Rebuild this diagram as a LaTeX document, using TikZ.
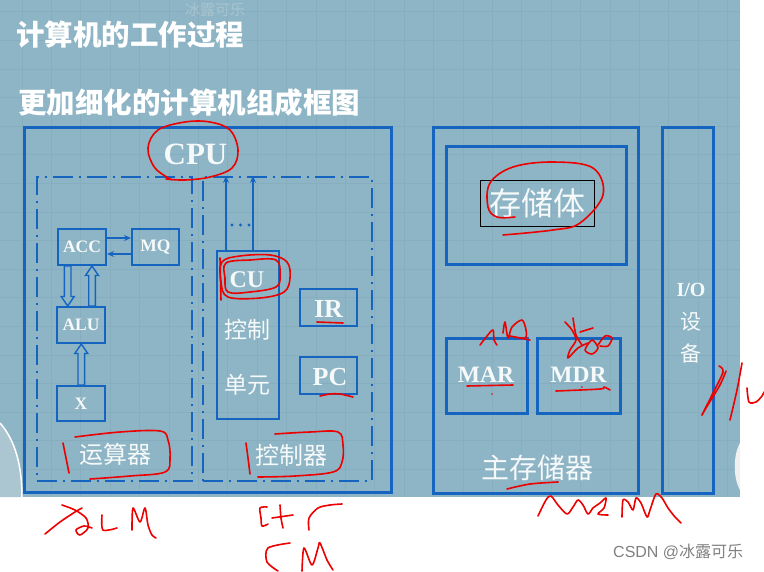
\documentclass[tikz,border=0pt]{standalone}
\usepackage{fontspec}
\usetikzlibrary{calc,arrows.meta}
\newfontfamily\cjk{Noto Sans CJK SC}
\newfontfamily\tnr{Liberation Serif}
\newfontfamily\arialf{Liberation Sans}
\definecolor{bgc}{RGB}{142,181,197}
\definecolor{gridc}{RGB}{134,174,190}
\definecolor{bl}{RGB}{21,101,192}
\definecolor{txtc}{RGB}{246,249,250}
\definecolor{redc}{RGB}{236,0,0}
\definecolor{wmc}{RGB}{168,196,208}
\definecolor{blobc}{RGB}{172,198,209}
\tikzset{
  lab/.style={font=\tnr\bfseries\fontsize{#1}{#1}\selectfont, text=txtc, inner sep=0pt},
  cn/.style={font=\cjk\fontsize{#1}{#1}\selectfont, text=txtc, inner sep=0pt},
  bigbox/.style={draw=bl, line width=3pt, minimum width=#1},
  smallbox/.style={draw=bl, line width=2pt},
  ddbox/.style={draw=bl, line width=2.4pt, dash pattern=on 20pt off 6pt on 2pt off 6pt},
  harrow/.style={draw=bl, line width=1.4pt, fill=bgc, line join=miter},
  sarrow/.style={draw=bl, line width=1.8pt, -{Stealth[length=7pt,width=6pt]}},
  pen/.style={draw=redc, line width=1.6pt, line cap=round, line join=round},
}
\newcommand{\hollowarrow}[2]{%
  \draw[harrow] let \p1=(#1), \p2=(#2), \p3=($(#2)!9.5pt!(#1)$) in
    (\x1-3.3pt,\y1) -- (\x1-3.3pt,\y3) -- (\x1-6.5pt,\y3) -- (\x2,\y2) --
    (\x1+6.5pt,\y3) -- (\x1+3.3pt,\y3) -- (\x1+3.3pt,\y1) -- cycle;}
\begin{document}
\begin{tikzpicture}[x=1pt,y=-1pt]
\useasboundingbox (0,0) rectangle (764,571);
\fill[white] (0,0) rectangle (764,571);
\fill[bgc] (0,0) rectangle (740,497);
\foreach \i in {0,...,24} \draw[gridc, line width=0.6pt] ({21.8+29.4*\i},0) -- ({21.8+29.4*\i},497);
\foreach \j in {0,...,16} \draw[gridc, line width=0.6pt] (0,{11.7+28.6*\j}) -- (740,{11.7+28.6*\j});
% edge blobs
\fill[blobc] (0,423) .. controls (15,440) and (22,465) .. (22,497) -- (0,497) -- cycle;
\draw[white, line width=1.5pt] (0,423) .. controls (15,440) and (22,465) .. (22,497);
\fill[white!88!gray] (740,443) .. controls (733,455) and (733,478) .. (740,490) -- cycle;
% watermark and titles
\node[cn=15, text=wmc] (wm) at (215,10) {冰露可乐};
\node[font=\cjk\bfseries\fontsize{28.5}{28.5}\selectfont, text=white, inner sep=0pt, anchor=west] (t1) at (16,35) {计算机的工作过程};
\node[font=\cjk\bfseries\fontsize{28.5}{28.5}\selectfont, text=white, inner sep=0pt, anchor=west] (t2) at (18,103) {更加细化的计算机组成框图};
% CPU
\node[bigbox=367pt, minimum height=365pt] (cpu) at (207.5,309.5) {};
\node[lab=31] (cpul) at (195.5,154) {CPU};
\node[ddbox, minimum width=155pt, minimum height=304pt] (aluarea) at (114.5,329) {};
\node[ddbox, minimum width=169pt, minimum height=304pt] (ctrl) at (287.5,329) {};
\node[smallbox, minimum width=48pt, minimum height=36pt] (acc) at (82,247) {};
\node[lab=17.5] at (acc) {ACC};
\node[smallbox, minimum width=47pt, minimum height=36pt] (mq) at (155.5,247) {};
\node[lab=17.5] at (mq) {MQ};
\node[smallbox, minimum width=48pt, minimum height=36pt] (alu) at (81,325) {};
\node[lab=17.5] at (alu) {ALU};
\node[smallbox, minimum width=48pt, minimum height=35pt] (xr) at (81,403.5) {};
\node[lab=17.5] at (xr) {X};
\draw[sarrow] (acc.east |- 0,238) -- (mq.west |- 0,238);
\draw[sarrow] (mq.west |- 0,254) -- (acc.east |- 0,254);
\coordinate (d1) at (67.7,0 |- acc.south);
\coordinate (d2) at (67.7,0 |- alu.north);
\coordinate (u1) at (92,0 |- alu.north);
\coordinate (u2) at (92,0 |- acc.south);
\coordinate (x1) at (81.3,0 |- xr.north);
\coordinate (x2) at (81.3,0 |- alu.south);
\hollowarrow{d1}{d2}
\hollowarrow{u1}{u2}
\hollowarrow{x1}{x2}
\node[cn=24] (ysq) at (115,454) {运算器};
% control unit
\node[draw=bl, line width=1.3pt, minimum width=62pt, minimum height=168pt] (cub) at (248,335) {};
\node[lab=24] (cul) at (247,280) {CU};
\node[cn=23] (kz) at (247,330) {控制};
\node[cn=23] (dy) at (247,385) {单元};
\draw[sarrow] (226,0 |- cub.north) -- (226,0 |- ctrl.north);
\draw[sarrow] (253,0 |- cub.north) -- (253,0 |- ctrl.north);
\fill[bl] (232,225) circle (1.7pt) (240.5,225) circle (1.7pt) (249,225) circle (1.7pt);
\node[smallbox, minimum width=57pt, minimum height=37pt] (ir) at (328.5,307.5) {};
\node[lab=26] at (328.5,309) {IR};
\node[smallbox, minimum width=57pt, minimum height=37pt] (pc) at (328.5,375.5) {};
\node[lab=26] at (330,377) {PC};
\node[cn=24] (kzq) at (291,455) {控制器};
% memory
\node[bigbox=205pt, minimum height=366pt] (mem) at (535.5,310) {};
\node[bigbox=180pt, minimum height=118pt] (bank) at (536,205) {};
\draw[black, line width=0.8pt] (480,180) rectangle (594,226);
\node[cn=32] (ccl) at (537,203) {存储体};
\node[bigbox=81pt, minimum height=75pt] (mar) at (486.5,375.5) {};
\node[lab=23.5] at (486,374.5) {MAR};
\node[bigbox=83pt, minimum height=75pt] (mdr) at (578.5,375.5) {};
\node[lab=23.5] at (578.5,374.5) {MDR};
\node[cn=28] (zcc) at (537,468) {主存储器};
% IO
\node[bigbox=51pt, minimum height=366pt] (io) at (687.5,310) {};
\node[lab=20] at (691,290) {I/O};
\node[cn=21] at (691,322) {设};
\node[cn=21] at (691,353) {备};
% CSDN
\node[font=\arialf\fontsize{16}{16}\selectfont, text=gray, inner sep=0pt, anchor=west] (csdn) at (613,552) {CSDN @{\cjk 冰露可乐}};
% red annotations
\draw[pen] plot[smooth, tension=0.6] coordinates {(172,180) (155,168) (148,148) (158,130) (185,122) (210,122) (230,130) (238,150) (232,168) (210,177) (185,180) (166,179)};
\draw[pen] plot[smooth cycle, tension=0.6] coordinates {(222,262) (240,256) (270,255) (287,262) (290,278) (284,292) (260,298) (228,297) (221,282)};
\draw[pen] plot[smooth cycle, tension=0.6] coordinates {(226,263) (250,260) (276,260) (280,275) (276,287) (250,292) (228,292) (225,278)};
\draw[pen] (220,258) -- (221,300);
\draw[pen] (317,322) -- (343,323);
\draw[pen] plot[smooth] coordinates {(320,396) (330,394) (340,394) (353,397)};
\draw[pen] plot[smooth] coordinates {(63,443) (66,458) (69,473)};
\draw[pen] plot[smooth, tension=0.6] coordinates {(75,437) (120,432) (160,431) (168,440) (170,458) (165,472) (130,476) (90,479)};
\draw[pen] plot[smooth] coordinates {(246,443) (248,458) (250,474)};
\draw[pen] plot[smooth, tension=0.6] coordinates {(275,434) (310,432) (338,432) (343,445) (342,462) (333,472) (295,476) (258,477)};
\draw[pen] plot[smooth, tension=0.6] coordinates {(503,235) (553,230) (580,223) (603,195) (593,168) (553,162) (513,167) (490,183) (488,207) (497,217) (515,217)};
\draw[pen] (467,386) -- (513,385);
\fill[redc] (492,394) circle (0.9pt) (582,387) circle (0.9pt);
\draw[pen] plot[smooth] coordinates {(556,391) (600,389) (604,387) (610,390)};
\draw[pen] plot[smooth] coordinates {(507,489) (530,484) (558,482)};
% 地址 scribble
\draw[pen] plot[smooth] coordinates {(480,345) (487,336) (493,330) (494,340) (497,345)};
\draw[pen] plot[smooth] coordinates {(503,333) (505,322) (508,338) (512,327) (522,320) (526,330) (525,338) (510,336) (530,340)};
% 数据 scribble
\draw[pen] plot[smooth] coordinates {(565,322) (572,330) (576,340) (570,350) (568,358) (578,348) (588,343)};
\draw[pen] plot[smooth] coordinates {(573,318) (576,335) (582,345)};
\draw[pen] plot[smooth cycle] coordinates {(585,350) (592,340) (598,348) (592,354)};
\draw[pen] plot[smooth] coordinates {(598,345) (605,336) (612,338) (608,346) (600,346)};
\draw[pen] (580,332) -- (593,328);
% I/O scribble
\draw[pen] plot[smooth] coordinates {(719,366) (723,372) (712,395) (702,415) (706,408) (720,385) (726,371)};
\draw[pen] plot[smooth] coordinates {(742,363) (737,390) (730,420)};
\draw[pen] plot[smooth] coordinates {(747,388) (749,402) (756,402) (762,396) (764,392)};
% alu
\draw[pen] plot[smooth] coordinates {(45,534) (60,522) (75,512) (82,508)};
\draw[pen] plot[smooth] coordinates {(62,505) (75,510) (86,518) (88,528) (80,535) (76,530) (84,526) (92,528)};
\draw[pen] plot[smooth] coordinates {(102,515) (103,530) (117,528)};
\draw[pen] plot[smooth] coordinates {(132,530) (133,508) (140,522) (145,508) (148,525) (152,535) (156,538)};
% ctr cu
\draw[pen] plot[smooth] coordinates {(267,507) (260,508) (261,518) (262,526) (268,524)};
\draw[pen] plot[smooth] coordinates {(280,505) (281,518) (283,528)};
\draw[pen] (272,518) -- (293,515);
\draw[pen] plot[smooth] coordinates {(309,530) (309,518) (318,508) (330,505) (342,504)};
\draw[pen] plot[smooth] coordinates {(290,543) (268,548) (267,562) (278,571)};
\draw[pen] plot[smooth] coordinates {(302,571) (304,548) (312,565) (318,548) (320,543) (327,560) (333,570)};
% mem
\draw[pen] plot[smooth, tension=0.5] coordinates {(538,516) (546,500) (551,496) (558,505) (567,514) (573,507) (578,500) (583,505) (588,514) (593,508) (600,503) (606,498) (604,508) (598,514) (608,515)};
\draw[pen] plot[smooth, tension=0.5] coordinates {(622,517) (623,500) (628,502) (633,510) (636,498) (641,503) (647,517) (650,510) (656,494) (662,498) (668,508) (675,517) (681,523)};
\end{tikzpicture}
\end{document}
